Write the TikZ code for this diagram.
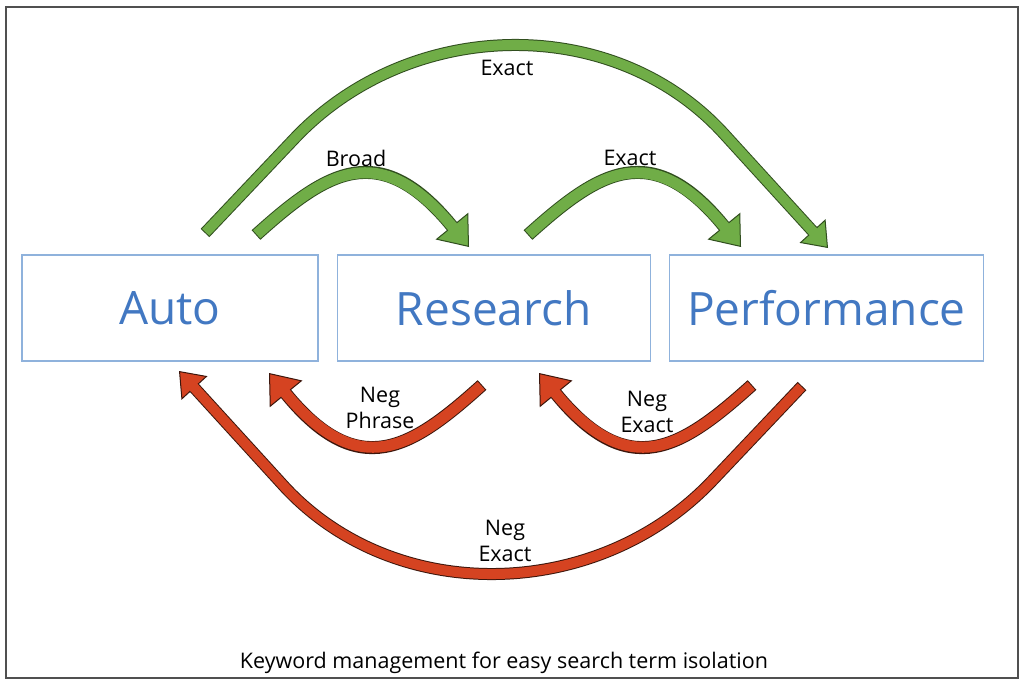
\documentclass[tikz,border=0pt]{standalone}
\usepackage{fontspec}
\setmainfont{Open Sans}
\usetikzlibrary{arrows.meta, positioning}

\definecolor{boxline}{RGB}{143,178,220}
\definecolor{boxtext}{RGB}{66,120,194}
\definecolor{gfill}{RGB}{112,173,71}
\definecolor{gline}{RGB}{48,78,30}
\definecolor{rfill}{RGB}{213,67,33}
\definecolor{rline}{RGB}{60,22,12}
\definecolor{framegray}{RGB}{80,80,80}

\begin{document}
\begin{tikzpicture}[
  x=1pt, y=-1pt,
  node distance=18pt,
  stage/.style={rectangle, draw=boxline, line width=1.2pt, minimum height=106pt, inner sep=0pt, text=boxtext, font=\fontsize{46}{52}\selectfont},
  lbl/.style={font=\fontsize{21.5}{26}\selectfont, align=center, inner sep=0pt},
  band/.style n args={2}{draw=#2, line width=13pt, -{Triangle[length=27pt, width=42pt, line width=1pt, fill=#1]},
    postaction={draw=#1, line width=11pt, -, shorten <=1pt, shorten >=24pt}},
  bigband/.style n args={2}{draw=#2, line width=12pt, -{Triangle[length=23pt, width=35pt, line width=1pt, fill=#1]},
    postaction={draw=#1, line width=10pt, -, shorten <=1pt, shorten >=20pt}},
]
\fill[white] (0,0) rectangle (1024,688);
\useasboundingbox (0,0) rectangle (1024,688);
\draw[framegray, line width=1.5pt] (6,7) rectangle (1018,678);

% Stages
\node[stage, minimum width=296pt] (auto) at (170,308) {Auto};
\node[stage, minimum width=313pt, right=of auto] (research) {Research};
\node[stage, minimum width=314pt, right=of research] (perf) {Performance};

% Arrow ends
\coordinate (autoExact) at (205,233);
\coordinate (perfExactIn) at (828,248);
\coordinate (autoBroad) at (256,235);
\coordinate (researchBroadIn) at (469,247);
\coordinate (researchExact) at (528,235);
\coordinate (perfExactMidIn) at (741,247);
\coordinate (researchNeg) at (482,385);
\coordinate (autoNegIn) at (269,373);
\coordinate (perfNegMid) at (752,385);
\coordinate (researchNegIn) at (539,373);
\coordinate (perfNegBig) at (802,386);
\coordinate (autoNegBigIn) at (179,371);

% Forward (green)
\draw[bigband={gfill}{gline}] (autoExact) -- (295,138) .. controls (410,17) and (614,12) .. (725,135) -- (perfExactIn);
\draw[band={gfill}{gline}] (autoBroad) .. controls (326,172) and (379,137) .. (researchBroadIn);
\draw[band={gfill}{gline}] (researchExact) .. controls (598,172) and (651,137) .. (perfExactMidIn);

% Backward (red)
\draw[band={rfill}{rline}] (researchNeg) .. controls (412,448) and (359,483) .. (autoNegIn);
\draw[band={rfill}{rline}] (perfNegMid) .. controls (682,448) and (629,483) .. (researchNegIn);
\draw[bigband={rfill}{rline}] (perfNegBig) -- (712,481) .. controls (597,602) and (393,607) .. (282,484) -- (autoNegBigIn);

% Labels
\node[lbl] (exactTop) at (507,68) {Exact};
\node[lbl] (broad) at (356,158) {Broad};
\node[lbl] (exactMid) at (630,158) {Exact};
\node[lbl] (negPhrase) at (380,408) {Neg\\Phrase};
\node[lbl] (negExactMid) at (647,412) {Neg\\Exact};
\node[lbl] (negExactBig) at (505,541) {Neg\\Exact};
\node[lbl] (caption) at (504,663) {Keyword management for easy search term isolation};

\end{tikzpicture}
\end{document}
